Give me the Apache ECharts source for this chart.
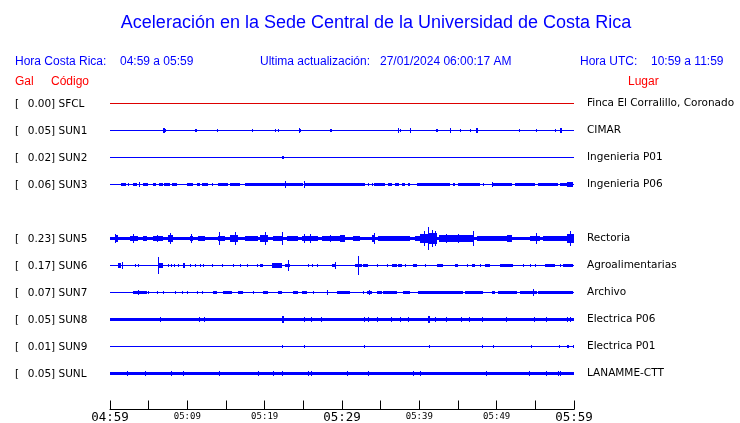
<!DOCTYPE html>
<html><head><meta charset="utf-8">
<script src="https://cdn.jsdelivr.net/npm/echarts@6/dist/echarts.min.js"></script>
<style>html,body{margin:0;padding:0;background:#fff}#c{width:740px;height:423px}</style>
</head><body><div id="c"></div>
<script>
// ---------- data ----------
const codes = ['SFCL','SUN1','SUN2','SUN3','SUN5','SUN6','SUN7','SUN8','SUN9','SUNL'];
const places = ['Finca El Corralillo, Coronado','CIMAR','Ingenieria P01','Ingenieria P06','Rectoria','Agroalimentarias','Archivo','Electrica P06','Electrica P01','LANAMME-CTT'];
const peakGal = [0.00,0.05,0.02,0.06,0.23,0.17,0.07,0.05,0.01,0.05];
const rowIndex = [0,1,2,3,5,6,7,8,9,10];          // SUN4 row is empty
const noiseGal = [0,0,0,0.008,0.024,0,0,0.032,0,0.034];
const xTickMinutes = [0,10,20,30,40,50,60];
const xTickLabels = ['04:59','05:09','05:19','05:29','05:39','05:49','05:59'];
const majorTickLabels = ['04:59','05:29','05:59'];
const headerLocal = '04:59 a 05:59';
const headerUpdate = '27/01/2024 06:00:17 AM';
const headerUtc = '10:59 a 11:59';

// bursts: [start minute, end minute, half amplitude in gal]
const sfclBursts = [];
const sun1Bursts = [[6.9,7.05,0.037],[7.05,7.3,0.02],[11.0,11.3,0.028],[13.8,13.9,0.028],[18.3,18.4,0.028],[21.3,21.4,0.028],[21.7,21.8,0.028],[23.5,23.6,0.015],[24.4,24.5,0.046],[24.5,24.75,0.03],[28.4,28.75,0.03],[34.1,34.2,0.015],[37.2,37.3,0.037],[37.45,37.55,0.02],[38.75,38.85,0.046],[39.55,39.65,0.015],[40.8,40.9,0.015],[42.2,42.4,0.028],[43.95,44.05,0.046],[45.2,45.3,0.02],[46.5,46.6,0.02],[47.35,47.6,0.04],[52.85,52.95,0.02],[55.05,55.15,0.02],[56.85,56.95,0.015],[57.6,57.7,0.02],[58.15,58.5,0.046]];
const sun2Bursts = [[22.3,22.5,0.022]];
const sun3Bursts = [[1.4,2.1,0.024],[2.3,2.4,0.024],[3.0,3.5,0.024],[3.7,3.8,0.046],[4.25,4.9,0.024],[5.5,6.0,0.024],[6.3,6.8,0.024],[7.0,7.8,0.024],[8.0,8.7,0.024],[9.9,10.7,0.024],[11.2,11.7,0.024],[11.9,12.7,0.024],[13.15,13.25,0.024],[14.0,15.3,0.024],[15.5,16.8,0.024],[17.4,22.6,0.024],[22.6,22.7,0.062],[22.7,24.9,0.026],[25.05,25.15,0.058],[25.2,30.4,0.026],[29.7,33.0,0.026],[33.3,33.4,0.024],[33.85,33.95,0.024],[34.2,35.6,0.024],[35.9,36.5,0.024],[36.8,37.4,0.024],[37.7,38.2,0.024],[38.5,38.8,0.024],[39.7,41.1,0.024],[41.1,44.0,0.03],[44.3,44.6,0.024],[45.0,47.9,0.026],[48.2,48.3,0.024],[49.35,49.45,0.046],[49.5,52.0,0.026],[52.4,55.0,0.026],[55.3,57.9,0.026],[58.2,59.1,0.026],[59.1,59.9,0.04]];
const sun5Bursts = [[0.6,1.0,0.06],[0.7,0.8,0.074],[1.0,2.3,0.03],[2.6,3.6,0.055],[3.0,3.1,0.074],[3.6,4.3,0.03],[4.3,4.8,0.045],[4.8,5.5,0.03],[5.5,6.9,0.05],[6.1,6.2,0.07],[7.5,8.15,0.065],[7.8,7.9,0.093],[8.6,9.7,0.03],[10.3,10.7,0.055],[10.5,10.6,0.074],[11.4,12.3,0.045],[12.3,14.0,0.03],[14.0,14.9,0.055],[14.1,14.2,0.124],[15.5,16.6,0.06],[16.2,16.3,0.124],[16.6,17.4,0.03],[17.4,19.1,0.045],[19.4,20.4,0.07],[20.0,20.1,0.124],[21.1,22.2,0.04],[22.2,22.3,0.111],[22.9,24.3,0.045],[24.8,26.9,0.045],[25.1,25.2,0.074],[25.8,25.9,0.074],[27.4,30.1,0.05],[28.5,28.6,0.07],[29.7,30.4,0.06],[30.4,31.4,0.03],[31.4,32.3,0.055],[32.3,33.9,0.03],[33.9,34.3,0.07],[34.1,34.2,0.093],[34.6,38.8,0.04],[39.4,40.1,0.04],[40.1,41.1,0.085],[40.6,40.7,0.13],[41.1,41.25,0.222],[41.25,42.3,0.1],[41.6,41.7,0.148],[42.0,42.1,0.13],[42.6,47.0,0.06],[43.5,43.6,0.083],[45.0,45.1,0.083],[46.9,47.0,0.13],[47.4,51.3,0.045],[51.4,52.0,0.06],[52.0,54.3,0.03],[54.3,55.6,0.045],[55.1,55.2,0.093],[56.0,59.1,0.04],[59.1,60.0,0.08],[59.5,59.6,0.13]];
const sun6Bursts = [[1.0,1.45,0.037],[1.5,1.6,0.065],[3.2,3.3,0.028],[3.6,3.7,0.028],[6.2,6.35,0.157],[6.35,6.9,0.037],[7.5,7.6,0.028],[7.9,8.0,0.028],[8.3,8.4,0.028],[8.75,8.85,0.028],[9.4,9.7,0.046],[10.3,10.4,0.019],[11.0,11.05,0.028],[11.6,11.7,0.028],[12.0,12.05,0.028],[13.15,13.25,0.028],[14.45,14.5,0.028],[15.9,15.95,0.028],[16.8,16.85,0.028],[17.7,17.75,0.028],[19.0,19.05,0.028],[19.4,19.8,0.028],[20.9,22.2,0.04],[22.6,23.3,0.033],[23.0,23.1,0.1],[25.6,25.65,0.028],[26.1,26.15,0.028],[26.75,26.9,0.028],[28.7,29.1,0.033],[29.1,29.2,0.056],[31.7,32.6,0.033],[32.05,32.15,0.167],[32.7,33.4,0.028],[34.5,34.6,0.028],[35.8,35.9,0.028],[36.45,37.1,0.028],[37.2,37.75,0.028],[38.1,38.2,0.028],[39.2,39.7,0.028],[40.7,40.8,0.028],[42.3,43.05,0.028],[44.6,45.0,0.028],[46.15,46.2,0.028],[46.8,47.2,0.028],[47.8,47.9,0.028],[48.5,49.15,0.028],[50.4,52.1,0.033],[53.4,53.5,0.028],[54.3,54.35,0.028],[54.95,55.0,0.028],[56.25,57.55,0.028],[58.2,58.3,0.028],[58.6,59.9,0.028]];
const sun7Bursts = [[3.0,4.8,0.026],[3.6,3.7,0.046],[4.9,5.0,0.026],[6.05,6.15,0.026],[6.8,6.9,0.026],[8.4,8.5,0.019],[9.3,9.35,0.026],[9.95,10.0,0.019],[11.2,11.3,0.026],[11.9,12.0,0.026],[13.3,13.85,0.026],[14.6,15.8,0.026],[16.55,17.2,0.026],[18.45,18.55,0.019],[19.8,20.45,0.026],[21.7,22.25,0.026],[23.65,24.3,0.026],[24.8,25.45,0.026],[26.2,26.3,0.019],[28.0,28.1,0.046],[29.35,30.4,0.026],[29.7,31.0,0.026],[32.7,32.75,0.019],[33.2,33.9,0.026],[33.5,33.6,0.046],[34.5,35.2,0.026],[35.3,37.1,0.026],[37.9,38.8,0.026],[39.8,42.7,0.026],[42.7,45.65,0.026],[45.9,48.2,0.026],[49.4,49.8,0.026],[50.2,52.6,0.026],[53.0,55.2,0.026],[54.65,54.75,0.058],[55.4,59.9,0.026]];
const sun8Bursts = [[6.5,6.6,0.048],[11.45,11.55,0.048],[12.1,12.2,0.048],[22.25,22.45,0.056],[25.05,25.15,0.048],[26.05,26.15,0.048],[27.25,27.35,0.048],[32.8,32.9,0.048],[33.3,33.4,0.048],[34.5,34.6,0.048],[36.4,36.5,0.048],[37.45,37.55,0.048],[38.5,38.6,0.048],[41.1,41.4,0.056],[42.0,42.1,0.048],[43.4,43.5,0.048],[45.35,45.45,0.048],[46.4,46.5,0.048],[48.05,48.15,0.048],[51.15,51.25,0.048],[54.8,54.9,0.048],[56.35,56.45,0.048],[59.05,59.15,0.048],[59.45,59.55,0.048]];
const sun9Bursts = [[22.3,22.4,0.022],[25.05,25.15,0.022],[32.8,32.9,0.022],[41.2,41.3,0.022],[48.05,48.15,0.022],[49.5,49.6,0.03],[54.5,54.6,0.022],[58.0,58.1,0.022],[59.1,59.3,0.022],[59.85,59.95,0.022]];
const sunlBursts = [[2.15,2.25,0.046],[4.5,4.6,0.046],[7.85,7.95,0.046],[9.4,9.5,0.046],[14.05,14.15,0.046],[19.2,19.3,0.046],[21.05,21.15,0.046],[22.3,22.4,0.046],[25.55,25.65,0.046],[25.95,26.05,0.046],[30.6,30.7,0.046],[33.3,33.4,0.046],[39.15,39.25,0.046],[40.05,40.15,0.046],[48.6,48.7,0.046],[54.15,54.25,0.046],[56.35,56.45,0.046],[57.9,58.0,0.046],[58.15,58.25,0.046]];
const bursts = [sfclBursts,sun1Bursts,sun2Bursts,sun3Bursts,sun5Bursts,sun6Bursts,sun7Bursts,sun8Bursts,sun9Bursts,sunlBursts];

// ---------- chart ----------
const ROW_GAL = 0.5;           // vertical offset between station rows, in gal
const traceColors = ['#dd0000','#0000ff','#0000ff','#0000ff','#0000ff','#0000ff','#0000ff','#0000ff','#0000ff','#0000ff'];

const items = [];
codes.forEach((c, i) => {
  items.push([0, 60, noiseGal[i], rowIndex[i], i]);
  bursts[i].forEach(b => items.push([b[0], b[1], b[2], rowIndex[i], i]));
});

function renderItem(params, api) {
  const t0 = api.value(0), t1 = api.value(1), amp = api.value(2), row = api.value(3), ci = api.value(4);
  const c0 = api.coord([t0, row * ROW_GAL]);
  const c1 = api.coord([t1, row * ROW_GAL]);
  const h = api.size([0, amp])[1];
  const x0 = Math.round(c0[0]); let x1 = Math.round(c1[0]); if (x1 <= x0) x1 = x0 + 1;
  const y0 = Math.round(c0[1] - h - 0.01); let y1 = Math.round(c0[1] + h + 0.01); if (y1 <= y0) y1 = y0 + 1;
  return { type: 'rect', shape: { x: x0, y: y0, width: x1 - x0, height: y1 - y0 }, style: { fill: traceColors[ci] } };
}

function rowOf(v) {
  const k = Math.round(v / ROW_GAL);
  if (Math.abs(v - k * ROW_GAL) > 1e-6) return -1;
  return rowIndex.indexOf(k);
}

const LBL = 'DejaVu Sans';
const HDR = '"Liberation Sans", Arial, sans-serif';
const chart = echarts.init(document.getElementById('c'), null, { renderer: 'canvas' });
const yCommon = {
  type: 'value', inverse: true, min: -ROW_GAL, max: ROW_GAL * 11.3333, interval: ROW_GAL,
  axisLine: { show: false, onZero: false }, axisTick: { show: false }, splitLine: { show: false }
};
chart.setOption({
  animation: false,
  backgroundColor: '#fff',
  grid: { left: 110, right: 166, top: 76.5, height: 333, containLabel: false, outerBoundsMode: 'none' },
  xAxis: {
    type: 'value', position: 'bottom', min: 0, max: 60, interval: 5,
    axisLine: { show: true, onZero: false, lineStyle: { color: '#000', width: 1 } },
    axisTick: { show: true, inside: true, length: 9, lineStyle: { color: '#000', width: 1 } },
    splitLine: { show: false },
    axisLabel: {
      show: true, margin: 1, showMinLabel: true, showMaxLabel: true, hideOverlap: false,
      formatter: v => {
        const i = xTickMinutes.indexOf(v);
        if (i < 0) return '';
        const s = xTickLabels[i];
        return majorTickLabels.includes(s) ? '{big|' + s + '}' : '{small|' + s + '}';
      },
      rich: {
        big: { fontFamily: 'DejaVu Sans Mono', fontSize: 12.5, color: '#000', lineHeight: 14 },
        small: { fontFamily: 'DejaVu Sans Mono', fontSize: 9, color: '#000', lineHeight: 11, padding: [1, 0, 0, 0] }
      }
    }
  },
  yAxis: [
    Object.assign({}, yCommon, {
      position: 'left',
      axisLabel: {
        show: true, align: 'left', margin: 95, color: '#000', fontFamily: LBL, fontSize: 10.5,
        padding: [2, 0, 0, 0],
        showMinLabel: true, showMaxLabel: true,
        formatter: v => {
          const i = rowOf(v);
          if (i < 0) return '';
          return '{b|[}{v|' + peakGal[i].toFixed(2) + ']} ' + codes[i];
        },
        rich: {
          b: { width: 12.7, fontFamily: LBL, fontSize: 10.5, color: '#000' },
          v: { fontFamily: LBL, fontSize: 10.5, color: '#000' }
        }
      }
    }),
    Object.assign({}, yCommon, {
      position: 'right',
      axisLabel: {
        show: true, align: 'left', margin: 13, color: '#000', fontFamily: LBL, fontSize: 10.5,
        padding: [2, 0, 0, 0],
        formatter: v => { const i = rowOf(v); return i < 0 ? '' : places[i]; }
      }
    })
  ],
  graphic: [
    { type: 'text', x: 376, y: 23, style: { text: 'Aceleración en la Sede Central de la Universidad de Costa Rica', fill: '#0000ff', font: '18px ' + HDR, align: 'center', verticalAlign: 'middle' } },
    { type: 'text', x: 15, y: 61.5, style: { text: 'Hora Costa Rica:', fill: '#0000ff', font: '12px ' + HDR, align: 'left', verticalAlign: 'middle' } },
    { type: 'text', x: 120, y: 61.5, style: { text: headerLocal, fill: '#0000ff', font: '12px ' + HDR, align: 'left', verticalAlign: 'middle' } },
    { type: 'text', x: 260, y: 61.5, style: { text: 'Ultima actualización:', fill: '#0000ff', font: '12px ' + HDR, align: 'left', verticalAlign: 'middle' } },
    { type: 'text', x: 380, y: 61.5, style: { text: headerUpdate, fill: '#0000ff', font: '12px ' + HDR, align: 'left', verticalAlign: 'middle' } },
    { type: 'text', x: 580, y: 61.5, style: { text: 'Hora UTC:', fill: '#0000ff', font: '12px ' + HDR, align: 'left', verticalAlign: 'middle' } },
    { type: 'text', x: 651, y: 61.5, style: { text: headerUtc, fill: '#0000ff', font: '12px ' + HDR, align: 'left', verticalAlign: 'middle' } },
    { type: 'text', x: 15, y: 82, style: { text: 'Gal', fill: '#ff0000', font: '12px ' + HDR, align: 'left', verticalAlign: 'middle' } },
    { type: 'text', x: 51, y: 82, style: { text: 'Código', fill: '#ff0000', font: '12px ' + HDR, align: 'left', verticalAlign: 'middle' } },
    { type: 'text', x: 628, y: 82, style: { text: 'Lugar', fill: '#ff0000', font: '12px ' + HDR, align: 'left', verticalAlign: 'middle' } }
  ],
  series: [{
    type: 'custom', xAxisIndex: 0, yAxisIndex: 0, silent: true, clip: true,
    dimensions: ['t0', 't1', 'amp', 'row', 'trace'],
    encode: { x: [0, 1], y: 3 },
    renderItem: renderItem,
    data: items
  }]
});
</script>
</body></html>
